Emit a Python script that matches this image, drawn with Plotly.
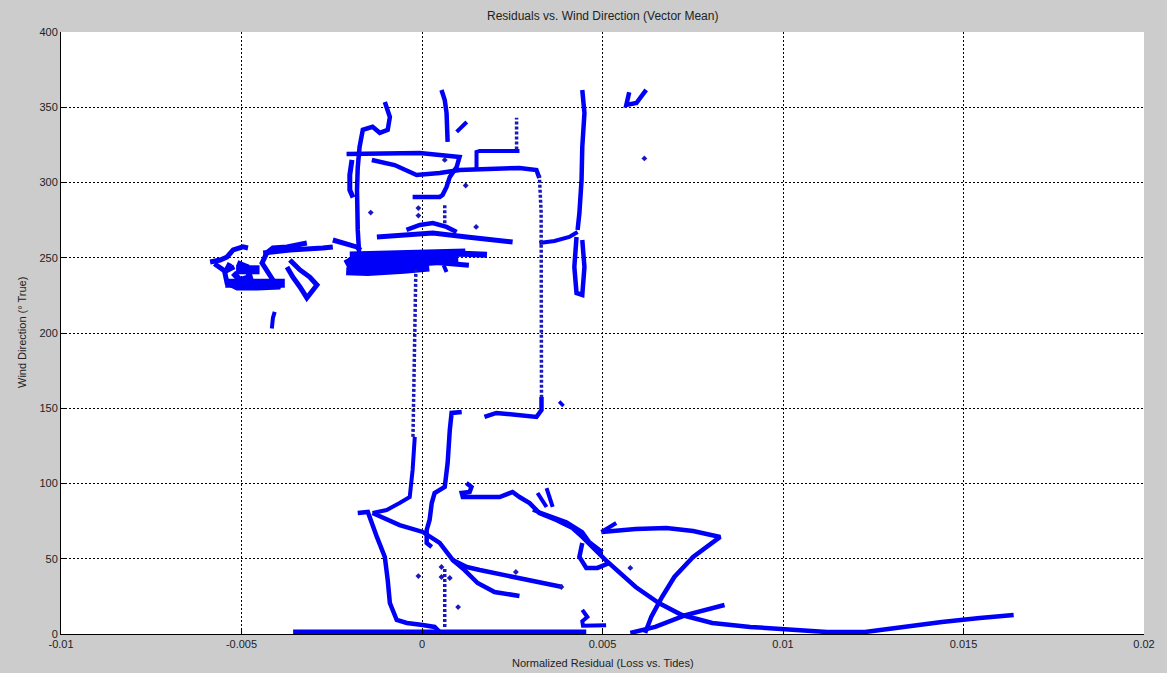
import plotly.graph_objects as go

# ---------------- data (x: normalized residual, y: wind direction deg) ----------------
bottom_x = [-0.00357, 0.00455]
bottom_y = [1.5, 1.5]

lcurve_x = [-0.00178, -0.00150, -0.00125, -0.00103, -0.00095, -0.00089, -0.00070, -0.00042, 0.00002, 0.00035, 0.00049]
lcurve_y = [80.4, 81.1, 64.5, 51.2, 35.9, 20.6, 9.3, 7.3, 6.0, 4.7, 1.3]

riser_x = [-0.00137, -0.00098, -0.00062, -0.00034, -0.00026, -0.00020]
riser_y = [80.4, 82.4, 87.0, 91.0, 109.0, 131.0]

diag_x = [-0.00137, -0.00062, 0.00002, 0.00049, 0.00085, 0.00124, 0.00160, 0.00251, 0.00389]
diag_y = [80.4, 72.4, 67.8, 60.5, 49.2, 44.5, 42.5, 37.9, 31.2]

branch_x = [0.00085, 0.00118, 0.00154, 0.00201, 0.00270]
branch_y = [49.2, 42.5, 33.9, 27.9, 25.3]

hook_x = [0.00110, 0.00082, 0.00077, 0.00071, 0.00063, 0.00035, 0.00027, 0.00021, 0.00013, 0.00013, 0.00027]
hook_y = [147.5, 146.9, 135.6, 113.6, 97.7, 93.7, 87.0, 75.8, 69.1, 60.5, 57.8]

foot_x = [0.00173, 0.00206, 0.00317, 0.00331, 0.00331]
foot_y = [144.2, 146.9, 144.2, 148.8, 157.5]

slant_x = [-0.00139, -0.00076, -0.00015, 0.00049, 0.00104, 0.00270, 0.00317, 0.00325]
slant_y = [315.0, 311.6, 305.0, 306.3, 308.3, 309.7, 308.3, 303.0]

step_x = [0.00151, 0.00151, 0.00160, 0.00270]
step_y = [308.3, 320.3, 321.0, 321.0]

top_h_x = [-0.00209, -0.00117, -0.00006, 0.00104, 0.00096, 0.00077, 0.00068, 0.00057, 0.00049, -0.00026]
top_h_y = [319.0, 319.6, 319.6, 317.0, 310.3, 303.7, 297.0, 291.7, 290.4, 290.4]

upleft_x = [-0.00103, -0.00089, -0.00095, -0.00117, -0.00137, -0.00164, -0.00173, -0.00178, -0.00180, -0.00180, -0.00178, -0.00173]
upleft_y = [353.5, 343.5, 335.0, 333.0, 337.0, 335.0, 323.6, 310.0, 295.0, 280.0, 268.5, 248.5]

double_x = [-0.00194, -0.00200, -0.00200, -0.00191]
double_y = [315.0, 305.0, 295.0, 290.0]

arrow_dn_x = [0.00054, 0.00063, 0.00068, 0.00068, 0.00071]
arrow_dn_y = [361.5, 354.8, 346.2, 334.9, 327.0]

slash_x = [0.00096, 0.00124]
slash_y = [333.6, 340.2]

rvert_x = [0.00444, 0.00450, 0.00444, 0.00442, 0.00436, 0.00431]
rvert_y = [361.5, 346.2, 323.6, 301.7, 279.7, 268.5]

rjoin_x = [0.00325, 0.00367, 0.00408, 0.00431]
rjoin_y = [259.8, 261.1, 263.8, 267.1]

rloop_x = [0.00428, 0.00422, 0.00428, 0.00444, 0.00450, 0.00444]
rloop_y = [263.8, 243.9, 226.6, 225.3, 243.9, 261.8]

vee_x = [0.00574, 0.00566, 0.00594, 0.00616, 0.00621]
vee_y = [360.0, 351.5, 352.8, 359.5, 361.5]

longdiag_x = [0.00123, 0.00137, 0.00132, 0.00110, 0.00113, 0.00215, 0.00251, 0.00270, 0.00298, 0.00325,
              0.00372, 0.00417, 0.00444, 0.00508, 0.00592, 0.00656, 0.00720, 0.00804, 0.00909, 0.01017,
              0.01122, 0.01227, 0.01332, 0.01440, 0.01545, 0.01639]
longdiag_y = [100.3, 97.7, 94.4, 93.7, 91.0, 91.0, 94.4, 91.0, 87.0, 80.4,
              75.8, 70.4, 64.5, 49.2, 31.2, 20.6, 12.6, 7.3, 4.7, 2.7,
              1.3, 1.3, 4.7, 8.0, 10.6, 12.6]

parallel_x = [0.00307, 0.00400, 0.00444, 0.00464, 0.00500]
parallel_y = [82.4, 74.4, 67.8, 61.1, 54.5]

ybranch1_x = [0.00345, 0.00362]
ybranch1_y = [97.0, 84.4]
ybranch2_x = [0.00320, 0.00345]
ybranch2_y = [93.7, 84.4]

lowloop_x = [0.00444, 0.00436, 0.00455, 0.00486, 0.00519]
lowloop_y = [60.5, 51.2, 43.9, 43.9, 47.2]

arrow_x = [0.00497, 0.00592, 0.00677, 0.00751, 0.00826, 0.00804, 0.00751, 0.00699, 0.00665, 0.00635, 0.00618]
arrow_y = [67.8, 69.8, 70.4, 68.4, 64.5, 60.5, 51.2, 37.9, 24.6, 11.3, 0.7]
barb_x = [0.00538, 0.00497]
barb_y = [73.8, 67.8]

cross_x = [0.00577, 0.00646, 0.00730, 0.00838]
cross_y = [0.7, 4.7, 12.6, 19.3]

squiggle_x = [0.00444, 0.00458, 0.00444, 0.00446, 0.00510]
squiggle_y = [16.0, 11.3, 8.5, 5.5, 5.8]

# left scribble cluster
scrA1_x = [-0.00587, -0.00559, -0.00540, -0.00523, -0.00496, -0.00482]
scrA1_y = [247.2, 248.5, 250.5, 255.2, 257.2, 256.5]
scrA2_x = [-0.00532, -0.00546, -0.00540, -0.00512, -0.00457, -0.00393, -0.00413, -0.00430, -0.00443, -0.00430, -0.00413, -0.00374, -0.00338, -0.00319]
scrA2_y = [246.5, 239.9, 233.2, 229.9, 229.9, 230.6, 235.2, 241.9, 246.5, 253.2, 256.5, 257.2, 258.5, 259.8]
scrB_x = [-0.00440, -0.00366, -0.00275, -0.00247]
scrB_y = [253.2, 255.2, 256.5, 257.2]
scrC_x = [-0.00374, -0.00358, -0.00338, -0.00319, -0.00291, -0.00311, -0.00338, -0.00366]
scrC_y = [243.9, 237.2, 230.6, 223.3, 231.9, 237.2, 241.9, 248.5]
scrD_x = [-0.00512, -0.00485, -0.00477, -0.00504, -0.00523]
scrD_y = [246.5, 243.9, 237.2, 235.2, 239.9]
scrE_x = [-0.00545, -0.00380]
scrE_y = [233.0, 233.0]
scrF_x = [-0.00515, -0.00450]
scrF_y = [242.0, 242.0]
scrG_x = [-0.00575, -0.00545, -0.00520]
scrG_y = [246.0, 241.0, 244.0]
stub_x = [-0.00408, -0.00413, -0.00416]
stub_y = [214.0, 210.0, 203.0]

# central cluster near 250 deg
k1_x = [-0.00247, -0.00214, -0.00181, -0.00170]
k1_y = [261.8, 259.8, 257.2, 255.0]
k2_x = [-0.00125, -0.00062, 0.00030, 0.00124, 0.00251]
k2_y = [263.8, 265.1, 266.5, 263.8, 260.5]
k3_x = [-0.00043, -0.00006, 0.00030, 0.00068, 0.00096]
k3_y = [268.5, 271.8, 273.1, 270.5, 267.1]
blob1_x = [-0.00205, -0.00100, -0.00020, 0.00060, 0.00100]
blob1_y = [246.0, 246.0, 248.0, 249.5, 250.0]
blob2_x = [-0.00200, -0.00050, 0.00120]
blob2_y = [251.5, 253.0, 253.5]
blob3_x = [-0.00210, -0.00150, -0.00050, 0.00020]
blob3_y = [241.0, 240.5, 242.0, 243.5]
blob4_x = [0.00080, 0.00180]
blob4_y = [253.0, 252.0]
blob5_x = [0.00030, 0.00130]
blob5_y = [247.0, 245.0]
blob6_x = [-0.00210, -0.00190]
blob6_y = [249.0, 240.0]
blob7_x = [0.00060, 0.00068]
blob7_y = [245.0, 240.5]

# dotted vertical runs (start/end)
dotA_x = [-0.00025, -0.00017]
dotA_y = [131.0, 242.0]
dotB_x = [0.00331, 0.00330, 0.00325]
dotB_y = [157.0, 280.0, 305.0]
dotC_x = [0.00063, 0.00063]
dotC_y = [273.0, 285.0]
dotD_x = [0.00063, 0.00063]
dotD_y = [4.7, 44.5]
dotE_x = [0.00262, 0.00262]
dotE_y = [322.0, 343.0]

# isolated points
pts_x = [-0.00142, 0.00121, 0.00150, 0.00063, 0.00616, -0.00010, 0.00054, 0.00054, 0.00077, 0.00100, 0.00260,
         0.00577, 0.00386, -0.00010, -0.00010]
pts_y = [280.0, 298.0, 270.5, 315.0, 316.0, 38.5, 44.5, 37.9, 37.2, 17.9, 41.2,
         43.9, 31.2, 283.0, 278.0]

short_dash_x = [0.00380, 0.00392]
short_dash_y = [154.5, 151.5]

# ---------------- figure ----------------
BLUE = "rgb(0,0,248)"
DOTBLUE = "rgb(25,25,190)"

fig = go.Figure()

line_paths = [
    (bottom_x, bottom_y, 4.5), (lcurve_x, lcurve_y, 4.5), (riser_x, riser_y, 4),
    (diag_x, diag_y, 4.5), (branch_x, branch_y, 4.5), (hook_x, hook_y, 4.5),
    (foot_x, foot_y, 4.5), (slant_x, slant_y, 4.5), (step_x, step_y, 4),
    (top_h_x, top_h_y, 4.5), (upleft_x, upleft_y, 4.5), (double_x, double_y, 5),
    (arrow_dn_x, arrow_dn_y, 4.5), (slash_x, slash_y, 4), (rvert_x, rvert_y, 4.5),
    (rjoin_x, rjoin_y, 4), (rloop_x, rloop_y, 4.5), (vee_x, vee_y, 4.5),
    (longdiag_x, longdiag_y, 4.5), (parallel_x, parallel_y, 4), (ybranch1_x, ybranch1_y, 4),
    (ybranch2_x, ybranch2_y, 4), (lowloop_x, lowloop_y, 4.5), (arrow_x, arrow_y, 4.5),
    (barb_x, barb_y, 4), (cross_x, cross_y, 4.5), (squiggle_x, squiggle_y, 4),
    (scrA1_x, scrA1_y, 5), (scrA2_x, scrA2_y, 5), (scrB_x, scrB_y, 5), (scrC_x, scrC_y, 5),
    (scrD_x, scrD_y, 6), (scrE_x, scrE_y, 9), (scrF_x, scrF_y, 9), (scrG_x, scrG_y, 5),
    (stub_x, stub_y, 4),
    (k1_x, k1_y, 5), (k2_x, k2_y, 5), (k3_x, k3_y, 4.5), (blob1_x, blob1_y, 12),
    (blob2_x, blob2_y, 8), (blob3_x, blob3_y, 8), (blob4_x, blob4_y, 6), (blob5_x, blob5_y, 5),
    (blob6_x, blob6_y, 6), (blob7_x, blob7_y, 4), (short_dash_x, short_dash_y, 3.5),
]
for xs, ys, w in line_paths:
    fig.add_trace(go.Scatter(x=xs, y=ys, mode="lines", line=dict(color=BLUE, width=w),
                             hoverinfo="skip", showlegend=False))

for xs, ys in [(dotA_x, dotA_y), (dotB_x, dotB_y), (dotC_x, dotC_y), (dotD_x, dotD_y), (dotE_x, dotE_y)]:
    fig.add_trace(go.Scatter(x=xs, y=ys, mode="lines",
                             line=dict(color=DOTBLUE, width=3.5, dash="3px,2px"),
                             hoverinfo="skip", showlegend=False))

fig.add_trace(go.Scatter(x=pts_x, y=pts_y, mode="markers",
                         marker=dict(color=DOTBLUE, size=4.5, symbol="diamond"),
                         hoverinfo="skip", showlegend=False))

FONT = "Liberation Sans, Arial, sans-serif"
axis_common = dict(
    showgrid=True, gridcolor="black", griddash="2px,2px", gridwidth=1,
    showline=True, linecolor="black", linewidth=1, mirror=False,
    ticks="inside", ticklen=5, tickcolor="black", zeroline=False,
    tickfont=dict(family=FONT, size=11, color="#222222"),
)

fig.update_layout(
    width=1167, height=673, autosize=False,
    margin=dict(l=61, r=21, t=32, b=39),
    paper_bgcolor="#cccccc", plot_bgcolor="white",
    xaxis=dict(range=[-0.01, 0.02], tickvals=[-0.01, -0.005, 0, 0.005, 0.01, 0.015, 0.02],
               ticktext=["-0.01", "-0.005", "0", "0.005", "0.01", "0.015", "0.02"], **axis_common),
    yaxis=dict(range=[0, 400], tickvals=[0, 50, 100, 150, 200, 250, 300, 350, 400], **axis_common),
    annotations=[
        dict(text="Residuals vs. Wind Direction (Vector Mean)", xref="paper", yref="paper",
             x=0.5, y=1, xanchor="center", yanchor="middle", yshift=16, showarrow=False,
             font=dict(family=FONT, size=12, color="#222222")),
        dict(text="Normalized Residual (Loss vs. Tides)", xref="paper", yref="paper",
             x=0.5, y=0, xanchor="center", yanchor="middle", yshift=-29, showarrow=False,
             font=dict(family=FONT, size=11, color="#222222")),
        dict(text="Wind Direction (° True)", xref="paper", yref="paper", textangle=-90,
             x=0, y=0.5, xanchor="center", yanchor="middle", xshift=-39, showarrow=False,
             font=dict(family=FONT, size=11, color="#222222")),
    ],
)

fig.write_html(
    "out.html",
    config={"displayModeBar": False},
    post_script="document.body.style.margin='0';document.body.style.background='#cccccc';"
                "document.body.style.overflow='hidden';",
)
